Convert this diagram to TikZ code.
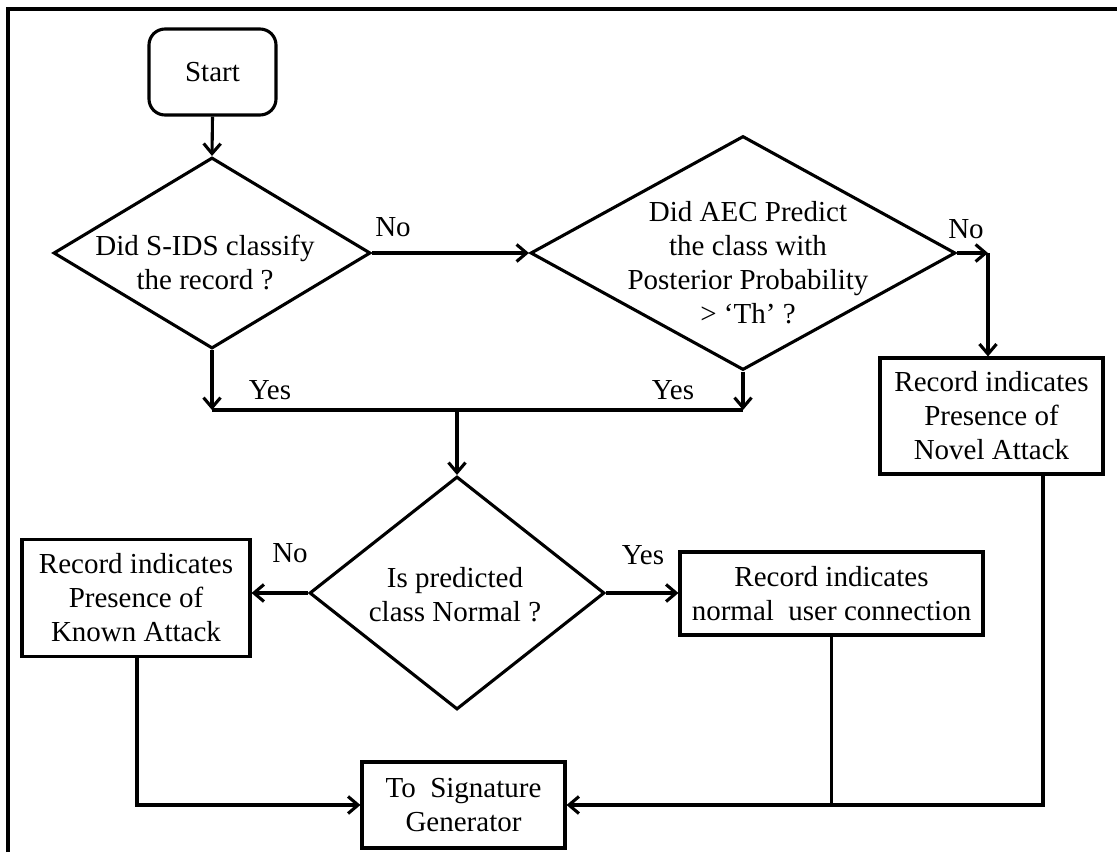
\documentclass[tikz,border=0pt]{standalone}
\usepackage{fontspec}
\setmainfont{Liberation Serif}
\usetikzlibrary{shapes.geometric,arrows.meta}

\tikzset{
  every node/.style={font=\fontsize{29}{34}\selectfont},
  flow/.style={line width=3.1pt},
  arr/.style={flow, -{Straight Barb[length=10pt,width=17pt]}},
  box/.style={draw, line width=3.1pt, rectangle, inner sep=0pt, align=center},
  startbox/.style={box, rounded corners=16pt},
  dia/.style={draw, line width=3.1pt, diamond, inner sep=0pt},
  txt/.style={align=center, inner sep=0pt},
  lbl/.style={inner sep=0pt},
}

\begin{document}
\begin{tikzpicture}[x=1pt,y=-1pt]
\useasboundingbox (0,0) rectangle (1117,852);

% open frame: top and left edges only
\draw[line width=3.8pt] (8,852) -- (8,9) -- (1117,9);

% start
\node[startbox, minimum width=127pt, minimum height=86pt] (start) at (212.5,72) {Start};

% decision 1
\node[dia, minimum width=317pt, minimum height=191pt] (d1) at (212,253) {};
\node[txt] (d1t) at (205,262) {Did S-IDS classify\\the record ?};

% decision 2
\node[dia, minimum width=425pt, minimum height=234pt] (d2) at (743,253) {};
\node[txt] (d2t) at (748,263) {Did AEC Predict\\the class with\\Posterior Probability\\{>} ‘Th’ ?};

% novel attack
\node[box, minimum width=223pt, minimum height=116pt] (novel) at (991.5,416) {Record indicates\\Presence of\\Novel Attack};

% decision 3
\node[dia, minimum width=295pt, minimum height=233pt] (d3) at (457,593) {};
\node[txt] (d3t) at (455,595) {Is predicted\\class Normal ?};

% outcomes
\node[box, minimum width=228pt, minimum height=117pt] (known) at (136,598) {Record indicates\\Presence of\\Known Attack};
\node[box, minimum width=303pt, minimum height=83pt] (normal) at (831.5,593.5) {Record indicates\\normal~ user connection};
\node[box, minimum width=203pt, minimum height=86pt] (sig) at (463.5,805) {To~ Signature\\Generator};

% branch labels
\node[lbl] (no1) at (393,227) {No};
\node[lbl] (yes1) at (270,390) {Yes};
\node[lbl] (no2) at (966,229) {No};
\node[lbl] (yes2) at (673,390) {Yes};
\node[lbl] (no3) at (290,553) {No};
\node[lbl] (yes3) at (643,555) {Yes};

% junction points
\coordinate (c1) at (988,253);
\coordinate (j1) at (212,410);
\coordinate (j2) at (743,410);
\coordinate (j3) at (457,410);
\coordinate (nv) at (1043,474);
\coordinate (kn) at (137,657);

% connectors
\draw[arr] (start.south) -- (d1.north);
\draw[arr] (d1.east) -- (d2.west);
\draw[arr] (d2.east) -- (c1);
\draw[arr] (c1) -- (c1 |- novel.north);
\draw[arr] (d1.south) -- (j1);
\draw[arr] (d2.south) -- (j2);
\draw[flow] (j1) -- (j2);
\draw[arr] (j3) -- (d3.north);
\draw[arr] (d3.west) -- (d3.west -| known.east);
\draw[arr] (d3.east) -- (d3.east -| normal.west);
\draw[arr] (kn) -- (kn |- sig.west) -- (sig.west);
\draw[arr] (nv) -- (nv |- sig.east) -- (sig.east);
\draw[flow] (normal.south) -- (normal.south |- sig.east);
\end{tikzpicture}
\end{document}
